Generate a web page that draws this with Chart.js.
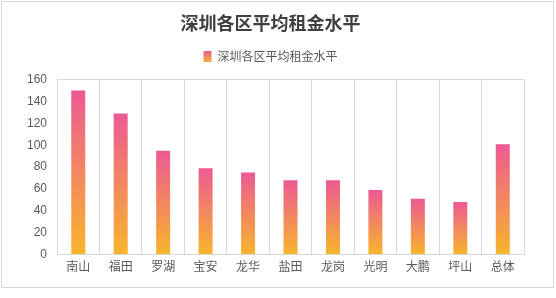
<!DOCTYPE html>
<html>
<head>
<meta charset="utf-8">
<script src="https://cdn.jsdelivr.net/npm/chart.js@4"></script>
<style>
  html, body { margin: 0; padding: 0; background: #fff; width: 556px; height: 298px; overflow: hidden; }
  #wrap { position: absolute; left: 1px; top: 1px; width: 553px; height: 287px; border: 1px solid #d9d9d9; box-sizing: border-box; }
</style>
</head>
<body>
<div id="wrap"><canvas id="rentChart"></canvas></div>
<script>
const districts = ['南山', '福田', '罗湖', '宝安', '龙华', '盐田', '龙岗', '光明', '大鹏', '坪山', '总体'];
const rentLevel = [150, 129, 95, 79, 75, 68, 68, 59, 51, 48, 101];
const yTicks = [0, 20, 40, 60, 80, 100, 120, 140, 160];

const pink = '#ec5a94';
const amber = '#f7b52c';

function barGradient(ctx) {
  const chart = ctx.chart;
  const area = chart.chartArea;
  if (!area) return pink;
  const y = chart.scales.y;
  const top = y.getPixelForValue(ctx.raw);
  const base = y.getPixelForValue(0);
  const g = chart.ctx.createLinearGradient(0, top, 0, base);
  g.addColorStop(0, pink);
  g.addColorStop(1, amber);
  return g;
}

const rentChart = new Chart(document.getElementById('rentChart'), {
  type: 'bar',
  data: {
    labels: districts,
    datasets: [{
      label: '深圳各区平均租金水平',
      data: rentLevel,
      backgroundColor: barGradient,
      barPercentage: 0.33,
      categoryPercentage: 1
    }]
  },
  options: {
    responsive: true,
    maintainAspectRatio: false,
    animation: false,
    layout: { padding: { left: 15, right: 29, top: 4, bottom: 8 } },
    plugins: {
      title: {
        display: true,
        text: '深圳各区平均租金水平',
        color: '#404040',
        font: { family: '"Noto Sans CJK SC"', size: 18, weight: 'bold' },
        padding: { top: 6, bottom: 2 }
      },
      legend: {
        labels: {
          color: '#595959',
          font: { family: '"Noto Sans CJK SC"', size: 12 },
          boxWidth: 8,
          boxHeight: 11,
          padding: 15,
          generateLabels: () => [{
            text: '深圳各区平均租金水平',
            fillStyle: pink,
            strokeStyle: 'transparent',
            lineWidth: 0,
            fontColor: '#595959',
            datasetIndex: 0
          }]
        }
      },
      tooltip: { enabled: false }
    },
    scales: {
      x: {
        offset: true,
        grid: { offset: true, color: '#d9d9d9', drawTicks: false },
        border: { color: '#d9d9d9' },
        ticks: { color: '#595959', font: { family: '"Noto Sans CJK SC"', size: 12 }, padding: 5 }
      },
      y: {
        min: 0,
        max: 160,
        afterBuildTicks: (axis) => { axis.ticks = yTicks.map(v => ({ value: v })); },
        grid: {
          drawTicks: false,
          color: (c) => (c.tick && c.tick.value === 160 ? '#d9d9d9' : 'transparent')
        },
        border: { color: '#d9d9d9' },
        ticks: { color: '#595959', font: { family: 'Liberation Sans', size: 12 }, padding: 10 }
      }
    }
  },
  plugins: [{
    id: 'legendGap',
    beforeInit(chart) {
      const lg = chart.legend;
      if (!lg) return;
      const fit = lg.fit;
      lg.fit = function () {
        fit.call(this);
        this.height += 7;
      };
    }
  }, {
    id: 'legendGradient',
    beforeDraw(chart) {
      const lg = chart.legend;
      if (!lg || !lg.legendItems || !lg.legendItems.length) return;
      const hit = lg.legendHitBoxes && lg.legendHitBoxes[0];
      const top = hit ? hit.top : lg.top;
      const h = hit ? hit.height : 14;
      const cy = top + h / 2;
      const g = chart.ctx.createLinearGradient(0, cy - 6, 0, cy + 6);
      g.addColorStop(0, pink);
      g.addColorStop(1, amber);
      lg.legendItems[0].fillStyle = g;
    }
  }, {
    id: 'rightEdge',
    afterDraw(chart) {
      const { ctx, chartArea } = chart;
      ctx.save();
      ctx.strokeStyle = '#d9d9d9';
      ctx.lineWidth = 1;
      ctx.beginPath();
      ctx.moveTo(Math.round(chartArea.right) + 0.5, chartArea.top);
      ctx.lineTo(Math.round(chartArea.right) + 0.5, chartArea.bottom);
      ctx.stroke();
      ctx.restore();
    }
  }]
});
</script>
</body>
</html>
